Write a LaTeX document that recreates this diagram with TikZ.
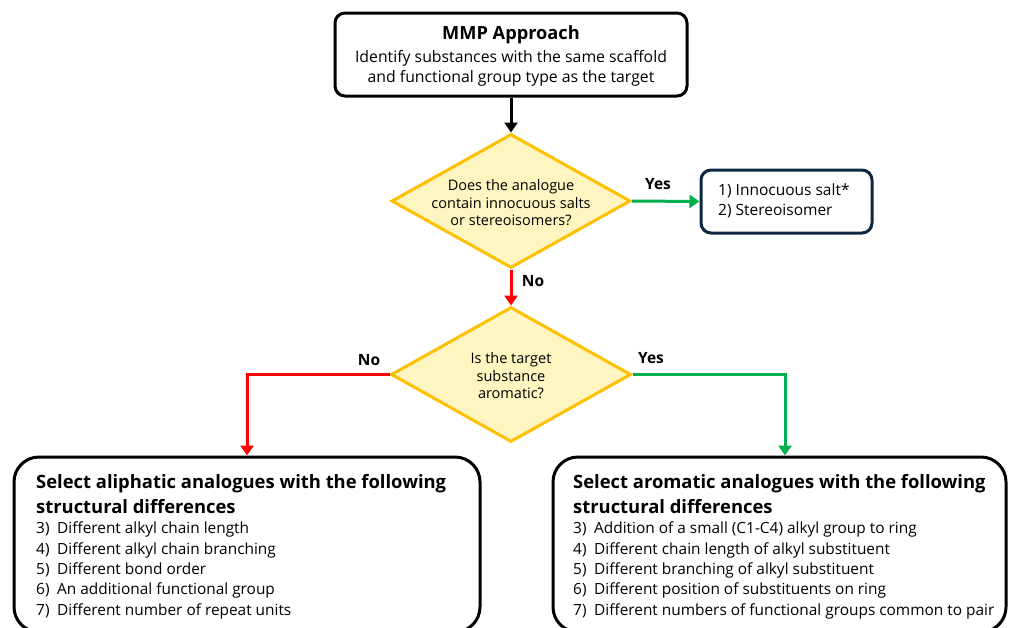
\documentclass[tikz,border=0pt]{standalone}
\usepackage{fontspec}
\setmainfont{Open Sans}
\usetikzlibrary{arrows.meta,shapes.geometric}
\definecolor{decfill}{HTML}{FFF5C0}
\definecolor{decedge}{HTML}{FFC000}
\definecolor{yesgreen}{HTML}{00B050}
\definecolor{nored}{HTML}{FF0000}
\definecolor{navyedge}{HTML}{0E2841}
\begin{document}
\begin{tikzpicture}[x=1pt,y=-1pt,
  box/.style={draw=black, line width=3pt, rounded corners=10pt, fill=white, inner sep=0pt},
  bigbox/.style={box, rounded corners=25pt},
  decision/.style={diamond, draw=decedge, fill=decfill, line width=3pt, inner sep=0pt},
  flow/.style={line width=3pt, -{Triangle[length=10pt,width=13pt]}},
  lbl/.style={font=\bfseries\fontsize{15.5}{17}\selectfont},
  qtext/.style={font=\fontsize{14.5}{17.5}\selectfont, align=center, inner sep=0pt},
  head/.style={font=\bfseries\fontsize{18.4}{25}\selectfont, align=left, anchor=north west, inner sep=0pt},
  items/.style={font=\fontsize{15.4}{20.3}\selectfont, align=left, anchor=north west, inner sep=0pt}
]
\useasboundingbox (0,0) rectangle (1009,627);
\newcommand{\itm}[1]{\makebox[21pt][l]{#1}}

% starting box
\node[box, minimum width=352pt, minimum height=83pt] (mmp) at (511,54.5) {};
\node[font=\bfseries\fontsize{18.2}{20}\selectfont, inner sep=0pt] (mmptitle) at (511,35) {MMP Approach};
\node[font=\fontsize{15.8}{20}\selectfont, align=center, inner sep=0pt] (mmptext) at (511,68)
  {Identify substances with the same scaffold\\and functional group type as the target};

% first decision
\node[decision, minimum width=239pt, minimum height=134pt] (dec1) at (511,201) {};
\node[qtext] (dec1text) at (511,203) {Does the analogue\\contain innocuous salts\\or stereoisomers?};

% outcome of the first decision
\node[box, draw=navyedge, minimum width=171pt, minimum height=63pt] (salt) at (786.5,201.5) {};
\node[font=\fontsize{15.5}{20}\selectfont, align=left, anchor=north west, inner sep=0pt] (salttext) at (718,184)
  {1) Innocuous salt*\\2) Stereoisomer};

% second decision
\node[decision, minimum width=240pt, minimum height=135pt] (dec2) at (511,374.5) {};
\node[qtext] (dec2text) at (511,376) {Is the target\\substance\\aromatic?};

% final selection boxes
\node[bigbox, minimum width=466pt, minimum height=175pt] (alip) at (247,544.5) {};
\node[head] (aliphead) at (36,474) {Select aliphatic analogues with the following\\structural differences};
\node[items] (alipitems) at (36,522) {\itm{3)}Different alkyl chain length\\
  \itm{4)}Different alkyl chain branching\\
  \itm{5)}Different bond order\\
  \itm{6)}An additional functional group\\
  \itm{7)}Different number of repeat units};

\node[bigbox, minimum width=453pt, minimum height=175pt] (arom) at (779.5,544.5) {};
\node[head] (aromhead) at (573,474) {Select aromatic analogues with the following\\structural differences};
\node[items] (aromitems) at (573,522) {\itm{3)}Addition of a small (C1-C4) alkyl group to ring\\
  \itm{4)}Different chain length of alkyl substituent\\
  \itm{5)}Different branching of alkyl substituent\\
  \itm{6)}Different position of substituents on ring\\
  \itm{7)}Different numbers of functional groups common to pair};

% connectors
\draw[flow, black] (mmp.south) -- (dec1.north);
\draw[flow, yesgreen] (dec1.east) -- (salt.west);
\draw[flow, nored] (dec1.south) -- (dec2.north);
\draw[flow, nored] (dec2.west) -| (alip.north);
\draw[flow, yesgreen] (dec2.east) -| ([xshift=5.5pt]arom.north);

% branch labels
\node[lbl] (yes1) at (658,184) {Yes};
\node[lbl] (no1) at (533,281) {No};
\node[lbl] (no2) at (369,360) {No};
\node[lbl] (yes2) at (651,358) {Yes};
\end{tikzpicture}
\end{document}
